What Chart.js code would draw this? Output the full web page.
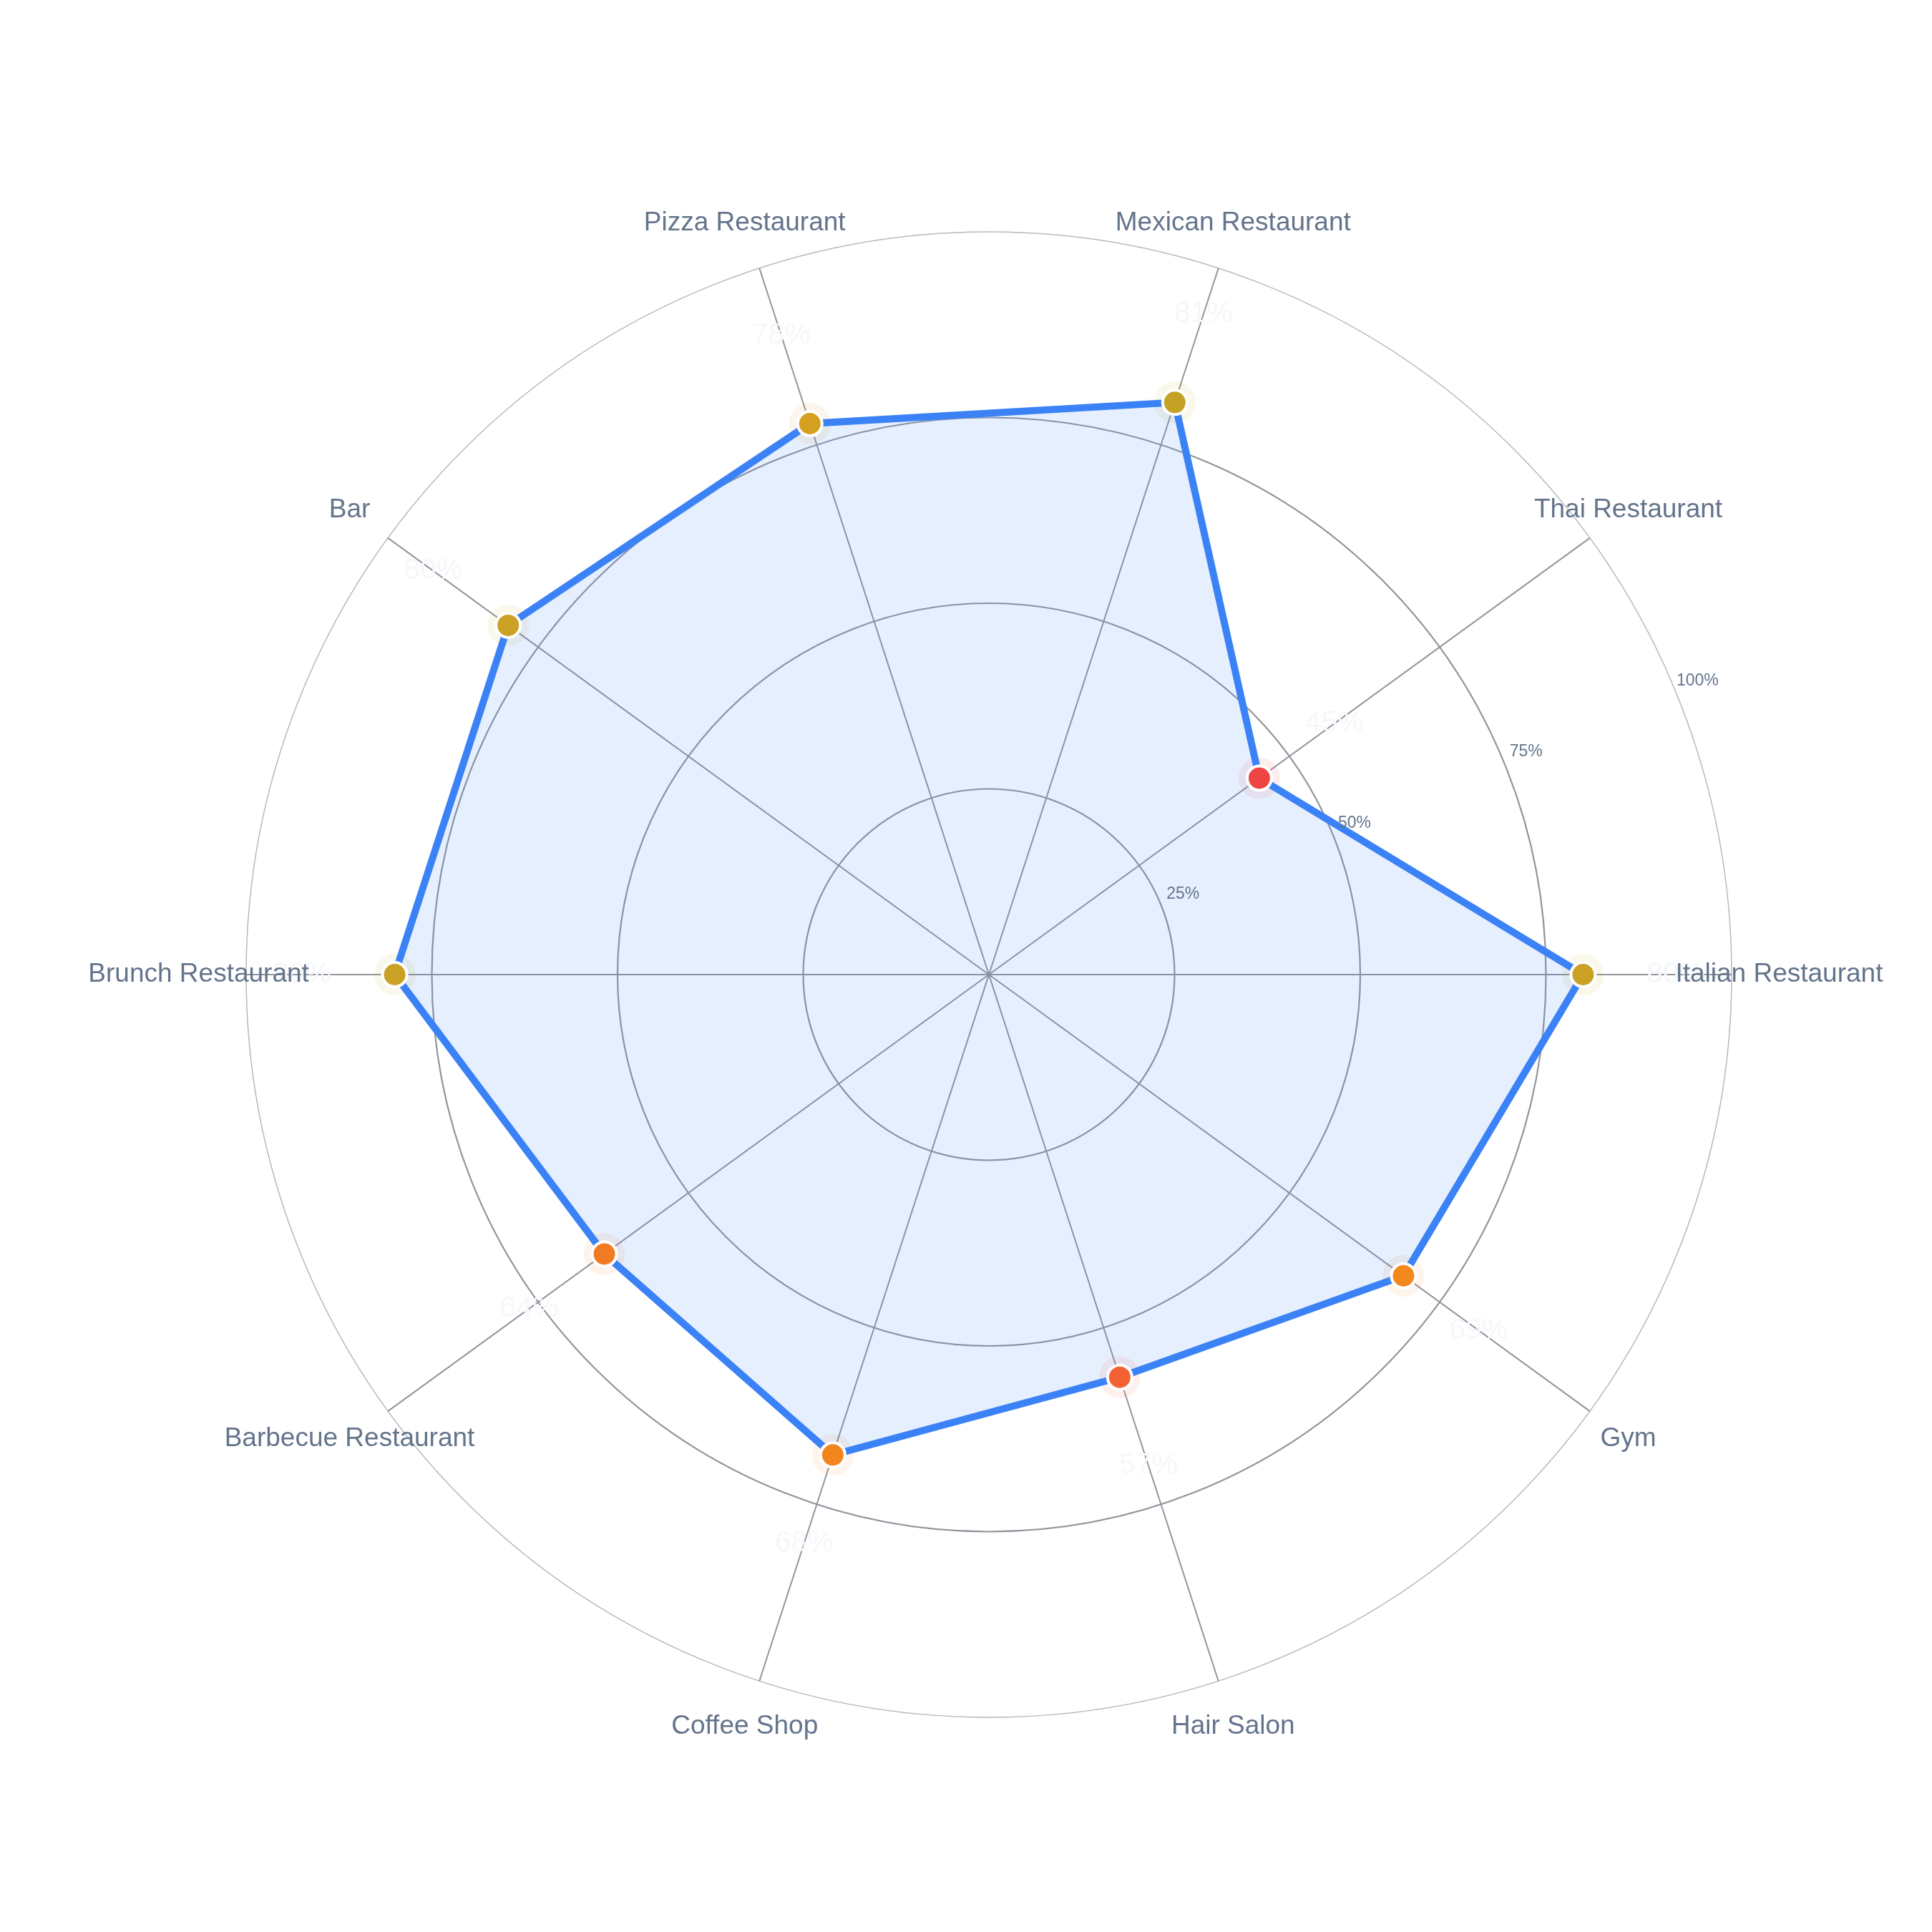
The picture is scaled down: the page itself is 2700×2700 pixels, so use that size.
<!DOCTYPE html>
<html>
<head>
<meta charset="utf-8">
<script src="https://cdn.jsdelivr.net/npm/chart.js@4.4.1/dist/chart.umd.min.js"></script>
<style>
  html, body { margin: 0; padding: 0; background: #ffffff; }
  canvas { display: block; }
</style>
</head>
<body>
<canvas id="c" width="2700" height="2700" style="width:2700px;height:2700px"></canvas>
<script>
// Categories listed clockwise starting from the right-hand axis
const categories = [
  'Italian Restaurant', 'Gym', 'Hair Salon', 'Coffee Shop', 'Barbecue Restaurant',
  'Brunch Restaurant', 'Bar', 'Pizza Restaurant', 'Mexican Restaurant', 'Thai Restaurant'
];
const values = [80, 69, 57, 68, 64, 80, 80, 78, 81, 45];
const tickValues = [25, 50, 75, 100];
const tickLabels = ['25%', '50%', '75%', '100%'];

// colour scale for markers (value -> colour)
const colorStops = [
  [45, [239, 68, 68]],
  [57, [242, 98, 50]],
  [64, [240, 123, 35]],
  [69, [243, 137, 29]],
  [78, [213, 160, 31]],
  [81, [196, 162, 38]]
];
function valueColor(v, a) {
  let c = colorStops[colorStops.length - 1][1];
  if (v <= colorStops[0][0]) c = colorStops[0][1];
  for (let i = 0; i < colorStops.length - 1; i++) {
    const [v0, c0] = colorStops[i], [v1, c1] = colorStops[i + 1];
    if (v >= v0 && v <= v1) {
      const t = (v - v0) / (v1 - v0);
      c = c0.map((x, k) => Math.round(x + (c1[k] - x) * t));
      break;
    }
  }
  return a === undefined ? `rgb(${c[0]},${c[1]},${c[2]})` : `rgba(${c[0]},${c[1]},${c[2]},${a})`;
}

const FONT = '"Liberation Sans", Arial, Helvetica, sans-serif';

const labelPlugin = {
  id: 'labels',
  afterDatasetsDraw(chart) {
    const scale = chart.scales.r;
    const ctx = chart.ctx;
    ctx.save();
    ctx.textAlign = 'center';
    ctx.textBaseline = 'middle';
    // value labels
    ctx.font = `41px ${FONT}`;
    ctx.fillStyle = '#f5f7fa';
    values.forEach((v, i) => {
      const p = scale.getPointPosition(i, scale.getDistanceFromCenterForValue(v + 12.5));
      ctx.fillText(v + '%', p.x, p.y);
    });
    // category labels
    ctx.font = `37px ${FONT}`;
    ctx.fillStyle = '#64748b';
    categories.forEach((c, i) => {
      const p = scale.getPointPosition(i, scale.getDistanceFromCenterForValue(106.4));
      ctx.fillText(c, p.x, p.y);
    });
    // radial tick labels along a 22.5 degree direction
    ctx.font = `23px ${FONT}`;
    ctx.fillStyle = '#64748b';
    const ang = -22.5 * Math.PI / 180;
    tickValues.forEach((t, i) => {
      const d = scale.getDistanceFromCenterForValue(t) + 34;
      ctx.fillText(tickLabels[i], scale.xCenter + d * Math.cos(ang), scale.yCenter + d * Math.sin(ang));
    });
    ctx.restore();
  }
};

new Chart(document.getElementById('c'), {
  type: 'radar',
  data: {
    labels: categories,
    datasets: [
      {
        data: values,
        order: 0,
        borderColor: '#3b82f6',
        borderWidth: 10,
        backgroundColor: 'rgba(59,130,246,0.13)',
        fill: true,
        pointRadius: 17,
        pointHoverRadius: 17,
        pointBorderWidth: 4,
        pointBorderColor: '#ffffff',
        pointBackgroundColor: ctx => valueColor(values[ctx.dataIndex])
      },
      {
        data: values,
        order: 1,
        showLine: false,
        fill: false,
        borderWidth: 0,
        backgroundColor: 'rgba(0,0,0,0)',
        borderColor: 'rgba(0,0,0,0)',
        pointRadius: 29,
        pointHoverRadius: 29,
        pointBorderWidth: 0,
        pointBackgroundColor: ctx => valueColor(values[ctx.dataIndex], 0.09)
      }
    ]
  },
  options: {
    responsive: false,
    devicePixelRatio: 1,
    animation: false,
    events: [],
    layout: { padding: { left: 344, right: 280, top: 324, bottom: 300 } },
    plugins: { legend: { display: false }, tooltip: { enabled: false } },
    scales: {
      r: {
        min: 0,
        max: 100,
        startAngle: 90,
        ticks: { display: false, stepSize: 25 },
        pointLabels: { display: false },
        grid: {
          circular: true,
          color: ctx => ctx.index === 4 ? '#b4b8bf' : '#90959d',
          lineWidth: ctx => ctx.index === 4 ? 1.5 : 2.2
        },
        angleLines: { color: '#90959d', lineWidth: 2 }
      }
    }
  },
  plugins: [labelPlugin]
});
</script>
</body>
</html>
